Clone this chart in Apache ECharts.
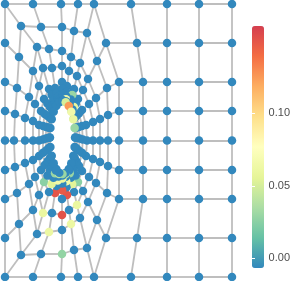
<!DOCTYPE html>
<html><head><meta charset="utf-8">
<script src="https://cdn.jsdelivr.net/npm/echarts@6/dist/echarts.min.js"></script>
<style>html,body{margin:0;padding:0;background:#fff}#c{width:293px;height:281px}</style>
</head><body><div id="c"></div>
<script>
// Mesh rings around the hole (outer -> inner), 24 spokes each, ordered clockwise from the top-left corner
const RING_X = [
  [5,33,61,78,94,106,119,119,119,119,119,106,94,78,61,33,5,5,5,5,5,5,5,5],
  [21,41,62,74,87,97,107,108,108,108,107,97,87,74,62,41,21,19,17,15,14,15,17,19],
  [37,49,62,71,80,88,96,100,100,100,96,88,80,71,62,49,37,33,29,25,25,25,29,33],
  [43,52,62,69,77,83,89,93,93,93,89,83,77,69,62,52,43,39,35,33,33,33,35,39],
  [49,55,62,67,74,78,82,86,87,86,82,78,74,67,62,55,49,44,41,39,39,39,41,44],
  [51.6,56.5,62.2,66.5,72.2,75.7,79,82,82.8,82,79,75.7,72.2,66.5,62.2,56.5,51.6,47.4,44.7,43,42.9,43,44.7,47.4],
  [53.5,57.7,62.3,66.2,70.8,73.8,76.6,78.9,79.6,78.9,76.6,73.8,70.8,66.2,62.3,57.7,53.5,50,47.6,46.1,45.8,46.1,47.6,50],
  [55,58.5,62.4,65.9,69.7,72.5,74.9,76.7,77.2,76.7,74.9,72.5,69.7,65.9,62.4,58.5,55,52,49.8,48.3,48,48.3,49.8,52],
  [55.9,59,62.5,65.8,69.1,71.7,73.8,75.3,75.7,75.3,73.8,71.7,69.1,65.8,62.5,59,55.9,53.1,51.1,49.7,49.3,49.7,51.1,53.1],
  [56.3,59.3,62.5,65.7,68.8,71.3,73.3,74.6,75,74.6,73.3,71.3,68.8,65.7,62.5,59.3,56.3,53.7,51.7,50.4,50,50.4,51.7,53.7]
];
const RING_Y = [
  [4,4,4,4,4,43,82,111,140.5,170,199,238,277,277,277,277,277,238,199,170,140.5,111,82,43],
  [26,27,27,31,33,61,88,115,140.5,166,193,220,248,250,254,254,255,224,193,167,140.5,114,88,57],
  [47,49,51,57,63,79,98,119,140.5,162,183,202,218,224,230,232,234,210,184,163,140.5,118,97,71],
  [68,68,66,71,76,90,104,122,140.5,159,177,191,205,210,215,213,213,195,177,160,140.5,121,104,86],
  [89,88,82,86,89,99,110,125,140.5,156,171,182,192,195,199,193,192,182,170,156,140.5,125,111,99],
  [94.9,93,88.7,91.7,94.9,103.4,113.3,126.1,139.5,152.8,165.7,175.5,184,187.2,190.3,185.9,184,175.5,165,152.8,139.5,126.1,113.9,103.4],
  [99.5,96.8,93.8,96,99.5,106.9,115.8,126.9,138.6,150.4,161.6,170.4,177.8,181.2,183.5,180.5,177.8,170.4,161.2,150.4,138.6,126.9,116.1,106.9],
  [102.9,99.6,97.6,99.3,102.9,109.4,117.6,127.5,138,148.5,158.5,166.7,173.2,176.8,178.5,176.4,173.2,166.7,158.4,148.5,138,127.5,117.8,109.4],
  [104.9,101.3,99.9,101.2,104.9,110.9,118.7,127.9,137.7,147.4,156.7,164.4,170.5,174.1,175.5,174,170.5,164.4,156.7,147.4,137.7,127.9,118.8,110.9],
  [105.9,102.2,101,102.2,105.9,111.7,119.3,128.1,137.5,146.9,155.8,163.3,169.1,172.8,174,172.8,169.1,163.3,155.8,146.9,137.5,128.1,119.3,111.7]
];
// Node values (B = the near-zero background value, at the bottom of the colour bar)
const B = -0.0066;
const RING_V = [
  [B,B,B,B,B,B,B,B,B,B,B,B,B,B,B,B,B,B,B,B,B,B,B,B],
  [B,B,B,B,B,B,B,B,B,B,B,B,B,B,0.028,B,B,B,B,B,B,B,B,B],
  [B,B,B,B,B,B,B,B,B,B,B,B,B,0.062,B,0.062,B,B,B,B,B,B,B,B],
  [B,B,B,B,B,B,B,B,B,B,B,B,0.06,B,0.152,B,0.06,B,B,B,B,B,B,B],
  [B,B,B,B,B,B,B,B,B,B,B,0.025,B,0.15,B,0.15,B,0.025,B,B,B,B,B,B],
  [B,B,B,B,0.03,B,B,B,B,B,B,B,0.055,B,0.148,B,0.055,B,B,B,B,B,B,B],
  [B,B,B,B,B,0.06,B,B,B,B,B,B,B,0.065,B,0.065,B,B,B,B,B,B,B,B],
  [B,B,B,0.065,B,B,B,B,B,B,B,B,0.03,B,0.06,B,0.03,B,B,B,B,B,B,B],
  [B,B,B,B,B,B,B,B,B,B,B,B,B,0.04,B,0.04,B,B,B,B,B,B,B,B],
  [B,B,B,0.05,0.125,0.065,0.06,0.03,B,B,B,B,B,B,0.03,B,B,B,B,B,B,B,B,B]
];
// Regular grid on the right side
const GRID_ROW_Y = [4,43,82,111,140.5,170,199,238,277];
const GRID_COL0_X = [131,137,143,143,143,143,143,137,131];
const GRID_COLS_X = [167,199,232];
const GRID_V = [[B,B,B,B],[B,B,B,B],[B,B,B,B],[B,B,B,B],[B,B,B,B],[B,B,B,B],[B,B,B,B],[B,B,B,B],[B,B,B,B]];
// Colour scale
const SCALE_MIN = -0.0066, SCALE_MAX = 0.1603;
const TICKS = [0, 0.05, 0.10];
const PALETTE = ['#3288bd','#66c2a5','#abdda4','#e6f598','#ffffbf','#fee08b','#fdae61','#f46d43','#d53e4f'];

const nodes = [], edges = [];
const gridPt = (i, c) => [c === 0 ? GRID_COL0_X[i] : GRID_COLS_X[c - 1], GRID_ROW_Y[i]];
const ringPt = (r, s) => [RING_X[r][s], RING_Y[r][s]];
const NR = RING_X.length, NS = RING_X[0].length;
for (let i = 0; i < GRID_ROW_Y.length; i++) for (let c = 0; c < 4; c++) { const p = gridPt(i, c); nodes.push([p[0], p[1], GRID_V[i][c]]); }
for (let r = 0; r < NR; r++) for (let s = 0; s < NS; s++) nodes.push([RING_X[r][s], RING_Y[r][s], RING_V[r][s]]);
for (let r = 0; r < NR; r++) for (let s = 0; s < NS; s++) {
  edges.push({coords: [ringPt(r, s), ringPt(r, (s + 1) % NS)]});
  if (r + 1 < NR) edges.push({coords: [ringPt(r, s), ringPt(r + 1, s)]});
}
for (let i = 0; i < GRID_ROW_Y.length; i++) {
  edges.push({coords: [ringPt(0, 4 + i), gridPt(i, 0)]});
  for (let c = 0; c < 4; c++) {
    if (c < 3) edges.push({coords: [gridPt(i, c), gridPt(i, c + 1)]});
    if (i + 1 < GRID_ROW_Y.length) edges.push({coords: [gridPt(i, c), gridPt(i + 1, c)]});
  }
}

const chart = echarts.init(document.getElementById('c'), null, {renderer: 'canvas'});
chart.setOption({
  animation: false,
  backgroundColor: '#fff',
  grid: [
    {left: 0, top: 0, width: 293, height: 281},
    {left: 252, top: 26, width: 12, height: 242}
  ],
  xAxis: [
    {type: 'value', min: 0, max: 293, show: false, gridIndex: 0},
    {type: 'value', min: 0, max: 1, show: false, gridIndex: 1}
  ],
  yAxis: [
    {type: 'value', min: 0, max: 281, inverse: true, show: false, gridIndex: 0},
    {type: 'value', gridIndex: 1, min: SCALE_MIN, max: SCALE_MAX, position: 'right', z: 10,
     axisLine: {show: false}, splitLine: {show: false},
     axisTick: {show: true, inside: true, length: 3, customValues: TICKS, lineStyle: {color: '#fff', width: 1}},
     axisLabel: {customValues: TICKS, formatter: v => v.toFixed(2), color: '#4d4d4d', fontSize: 11, margin: 7, fontFamily: 'Liberation Sans'}},
    {type: 'value', gridIndex: 1, min: SCALE_MIN, max: SCALE_MAX, position: 'left', z: 10,
     axisLine: {show: false}, splitLine: {show: false},
     axisTick: {show: true, inside: true, length: 3, customValues: TICKS, lineStyle: {color: '#fff', width: 1}},
     axisLabel: {show: false}}
  ],
  visualMap: {
    type: 'continuous', min: SCALE_MIN, max: SCALE_MAX, dimension: 2, seriesIndex: 1,
    calculable: false, hoverLink: false, itemWidth: 12, itemHeight: 242, left: 252, top: 26, padding: 0,
    inRange: {color: PALETTE}
  },
  series: [
    {type: 'lines', coordinateSystem: 'cartesian2d', xAxisIndex: 0, yAxisIndex: 0, silent: true, z: 1,
     lineStyle: {color: '#bebebe', width: 1.8, opacity: 1}, data: edges},
    {type: 'scatter', xAxisIndex: 0, yAxisIndex: 0, z: 2, symbol: 'circle', symbolSize: 8.5,
     itemStyle: {opacity: 1}, data: nodes}
  ]
});
</script></body></html>
